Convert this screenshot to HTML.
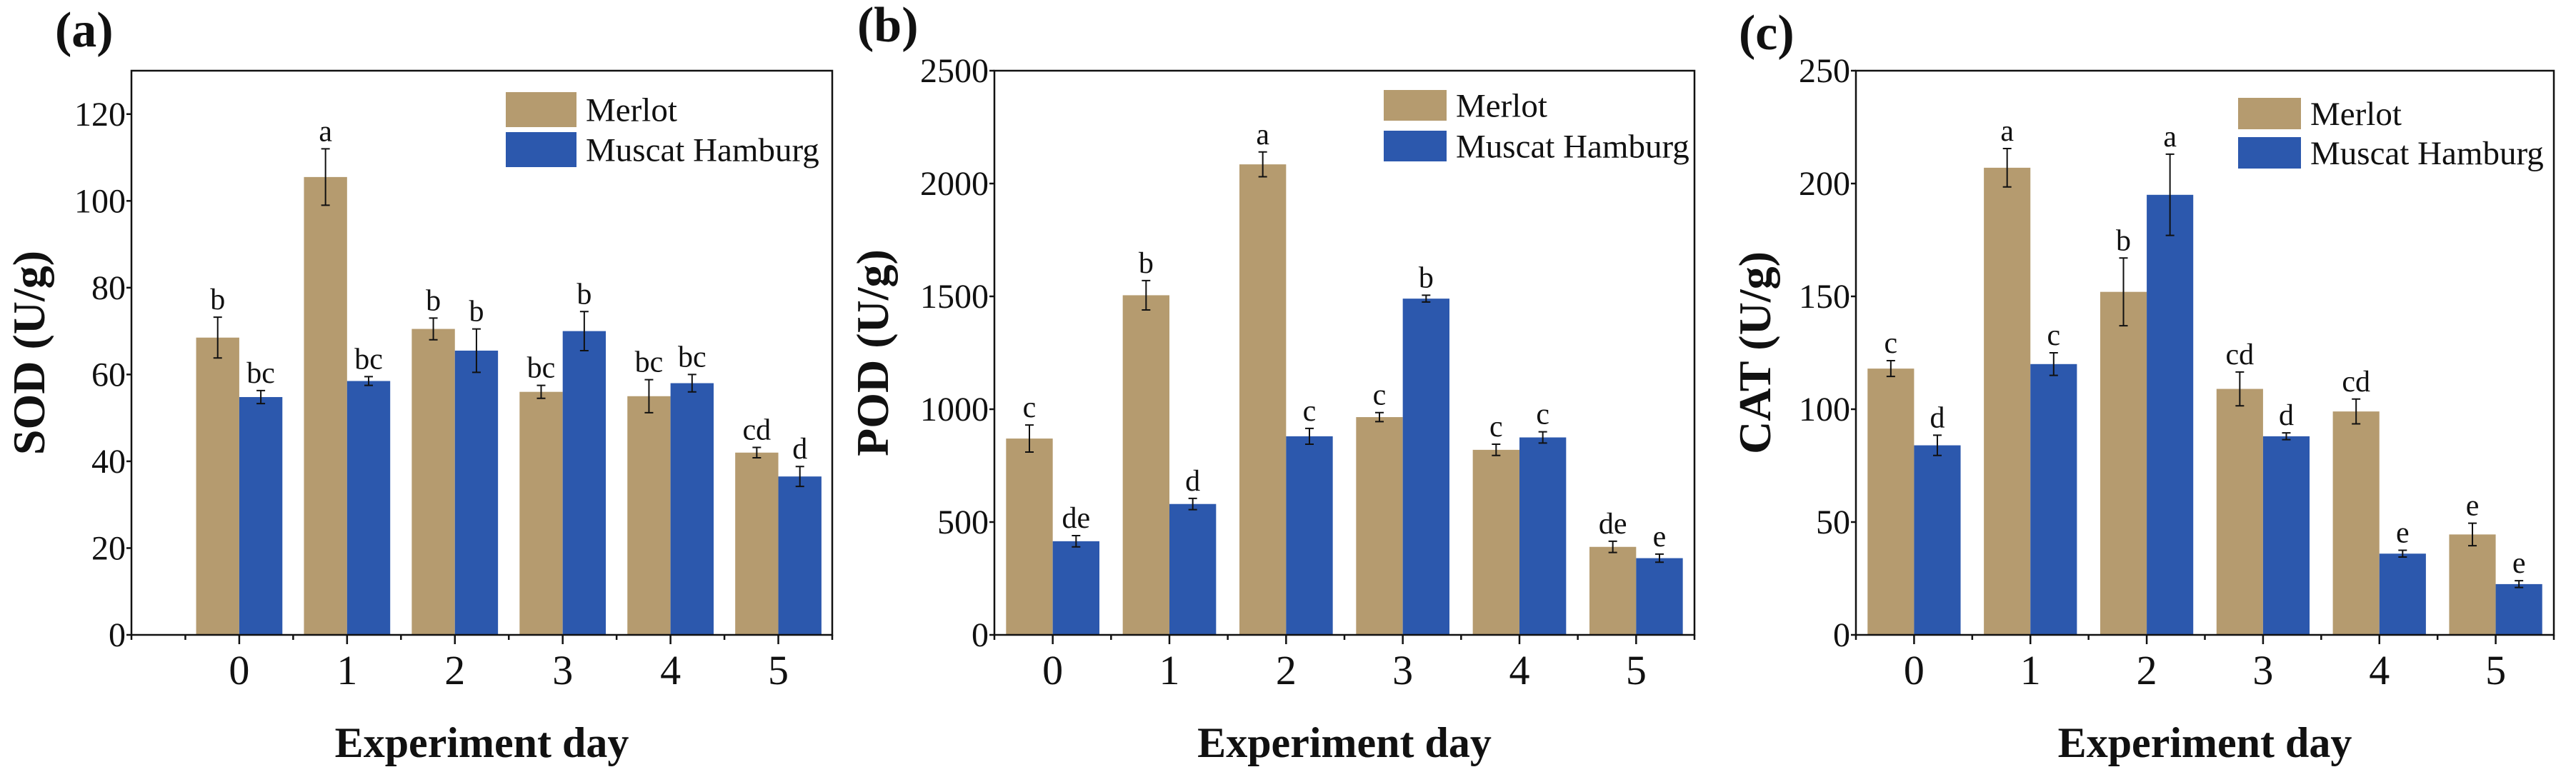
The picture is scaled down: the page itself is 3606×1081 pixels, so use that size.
<!DOCTYPE html>
<html><head><meta charset="utf-8"><style>
html,body{margin:0;padding:0;background:#fff;}
svg{display:block;font-family:"Liberation Serif",serif;}
</style></head><body>
<svg id="chart" width="3606" height="1081" viewBox="0 0 3606 1081" xmlns="http://www.w3.org/2000/svg"></svg>
<script>
const categories = ["0","1","2","3","4","5"];
const sodMerlot = [68.5,105.5,70.5,56,55,42];
const sodMerlotErr = [4.7,6.5,2.5,1.5,3.8,1.2];
const sodMuscat = [54.8,58.5,65.5,70,58,36.5];
const sodMuscatErr = [1.5,1,5,4.5,2,2.3];
const sodMerlotLbl = ["b","a","b","bc","bc","cd"];
const sodMuscatLbl = ["bc","bc","b","b","bc","d"];
const sodTicks = [0,20,40,60,80,100,120];

const podMerlot = [870,1505,2085,965,820,390];
const podMerlotErr = [60,65,55,20,25,25];
const podMuscat = [415,580,880,1490,875,340];
const podMuscatErr = [25,25,35,15,25,18];
const podMerlotLbl = ["c","b","a","c","c","de"];
const podMuscatLbl = ["de","d","c","b","c","e"];
const podTicks = [0,500,1000,1500,2000,2500];

const catMerlot = [118,207,152,109,99,44.5];
const catMerlotErr = [3.5,8.5,15,7.5,5.5,5];
const catMuscat = [84,120,195,88,36,22.5];
const catMuscatErr = [4.5,5,18,1.5,1.5,1.5];
const catMerlotLbl = ["c","a","b","cd","cd","e"];
const catMuscatLbl = ["d","c","a","d","e","e"];
const catTicks = [0,50,100,150,200,250];

const svg = document.getElementById('chart');
const NS = 'http://www.w3.org/2000/svg';
function mk(tag, attrs, parent){
  const e = document.createElementNS(NS, tag);
  for (const k in attrs) e.setAttribute(k, attrs[k]);
  (parent||svg).appendChild(e);
  return e;
}
const TAN = '#b59b6f', BLUE = '#2c58ad';

function panel(p){
  const g = mk('g', {});
  
  
  const xs = v => p.L + (v - p.xmin) / (p.xmax - p.xmin) * (p.R - p.L);
  const ys = v => p.B - v / p.ymax * (p.B - p.T);
  const series = [[p.m, p.me, p.ml, TAN, -0.4, 'merlot'], [p.u, p.ue, p.ul, BLUE, 0, 'muscat']];
  series.forEach(s => {
    categories.forEach((c, i) => {
      const x0 = xs(i + s[4]), x1 = xs(i + s[4] + 0.4);
      const r = mk('rect', {x: x0, y: ys(s[0][i]), width: x1 - x0, height: ys(0) - ys(s[0][i]), fill: s[3]}, g);
      
      
    });
  });
  series.forEach(s => {
    categories.forEach((c, i) => {
      const cx = xs(i + s[4] + 0.2);
      const top = ys(s[0][i] + s[1][i]), bot = ys(s[0][i] - s[1][i]);
      const eb = mk('path', {d: `M${cx},${top}V${bot}M${cx-6},${top}H${cx+6}M${cx-6},${bot}H${cx+6}`, stroke: '#111', 'stroke-width': 2, fill: 'none'}, g);
      
      
      const t = mk('text', {x: cx, y: top - 11, 'text-anchor': 'middle', 'font-size': 42, fill: '#111'}, g);
      t.textContent = s[2][i];
      
      
    });
  });
  const fr = mk('rect', {x: p.L, y: p.T, width: p.R - p.L, height: p.B - p.T, fill: 'none', stroke: '#111', 'stroke-width': 2.5}, g);
  
  
  p.ticks.forEach(v => {
    mk('line', {x1: p.L - 7, x2: p.L, y1: ys(v), y2: ys(v), stroke: '#111', 'stroke-width': 2.5}, g);
    const t = mk('text', {x: p.L - 8, y: ys(v) + 16, 'text-anchor': 'end', 'font-size': 48, fill: '#111'}, g);
    t.textContent = v;
    
    
  });
  for (let v = Math.ceil(p.xmin * 2) / 2; v <= p.xmax + 1e-6; v += 0.5) {
    const major = Math.abs(v - Math.round(v)) < 1e-6 && v >= 0;
    mk('line', {x1: xs(v), x2: xs(v), y1: p.B, y2: p.B + (major ? 13 : 7), stroke: '#111', 'stroke-width': 2.5}, g);
  }
  categories.forEach((c, i) => {
    const t = mk('text', {x: xs(i), y: 958, 'text-anchor': 'middle', 'font-size': 58, fill: '#111'}, g);
    t.textContent = c;
    
    
  });
  const xt = mk('text', {x: (p.L + p.R) / 2, y: 1060, 'text-anchor': 'middle', 'font-size': 60, 'font-weight': 'bold', fill: '#111'}, g);
  xt.textContent = 'Experiment day';
  
  
  const yt = mk('text', {x: 0, y: 0, transform: `translate(${p.ytx},494) rotate(-90)`, 'text-anchor': 'middle', 'font-size': 64, 'font-weight': 'bold', fill: '#111'}, g);
  yt.textContent = p.ytitle;
  
  
  const pl = mk('text', {x: p.plx, y: p.ply, 'font-size': 70, 'font-weight': 'bold', fill: '#111'}, g);
  pl.textContent = p.plabel;
  
  
  const lg = mk('g', {}, g);
  
  
  [['Merlot', TAN, p.lg[2]], ['Muscat Hamburg', BLUE, p.lg[3]]].forEach(e => {
    const sw = mk('rect', {x: p.lg[0], y: e[2], width: p.lg[1], height: p.lg[4], fill: e[1]}, lg);
    
    
    const t = mk('text', {x: p.lg[0] + p.lg[1] + 13, y: e[2] + p.lg[4] / 2 + 16, 'font-size': 47, fill: '#111'}, lg);
    t.textContent = e[0];
    
    
  });
}

panel({name: 'panel-sod', L: 184, R: 1165, T: 99, B: 889, xmin: -1, xmax: 5.5, ymax: 130, ticks: sodTicks,
  m: sodMerlot, me: sodMerlotErr, u: sodMuscat, ue: sodMuscatErr, ml: sodMerlotLbl, ul: sodMuscatLbl,
  ytitle: 'SOD (U/g)', ytx: 62, plabel: '(a)', plx: 77, ply: 65, lg: [708, 99, 129, 185, 49]});
panel({name: 'panel-pod', L: 1392, R: 2372, T: 99, B: 889, xmin: -0.5, xmax: 5.5, ymax: 2500, ticks: podTicks,
  m: podMerlot, me: podMerlotErr, u: podMuscat, ue: podMuscatErr, ml: podMerlotLbl, ul: podMuscatLbl,
  ytitle: 'POD (U/g)', ytx: 1243, plabel: '(b)', plx: 1200, ply: 58, lg: [1937, 88, 126, 183, 43]});
panel({name: 'panel-cat', L: 2598, R: 3575, T: 99, B: 889, xmin: -0.5, xmax: 5.5, ymax: 250, ticks: catTicks,
  m: catMerlot, me: catMerlotErr, u: catMuscat, ue: catMuscatErr, ml: catMerlotLbl, ul: catMuscatLbl,
  ytitle: 'CAT (U/g)', ytx: 2478, plabel: '(c)', plx: 2434, ply: 69, lg: [3133, 88, 137, 192, 44]});
</script>
</body></html>
